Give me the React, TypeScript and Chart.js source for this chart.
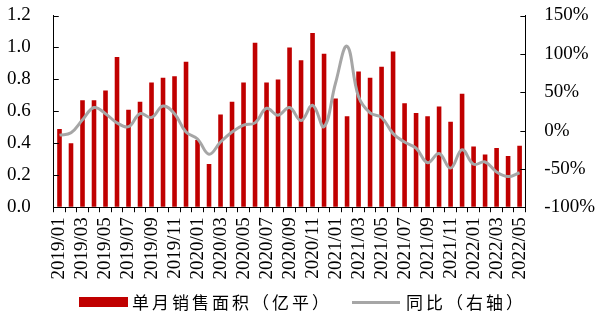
import React, { useEffect, useRef } from "react";
import { Chart, registerables } from "chart.js";

Chart.register(...registerables);

const months = [
  "2019/01", "2019/02", "2019/03", "2019/04", "2019/05", "2019/06", "2019/07", "2019/08", "2019/09", "2019/10", "2019/11", "2019/12",
  "2020/01", "2020/02", "2020/03", "2020/04", "2020/05", "2020/06", "2020/07", "2020/08", "2020/09", "2020/10", "2020/11", "2020/12",
  "2021/01", "2021/02", "2021/03", "2021/04", "2021/05", "2021/06", "2021/07", "2021/08", "2021/09", "2021/10", "2021/11", "2021/12",
  "2022/01", "2022/02", "2022/03", "2022/04", "2022/05",
];

const salesArea = [
  0.49, 0.40, 0.67, 0.67, 0.73, 0.94, 0.61, 0.66, 0.78, 0.81, 0.82, 0.91,
  0.42, 0.27, 0.58, 0.66, 0.78, 1.03, 0.78, 0.80, 1.00, 0.92, 1.09, 0.96,
  0.68, 0.57, 0.85, 0.81, 0.88, 0.975, 0.65, 0.59, 0.57, 0.63, 0.535, 0.71,
  0.38, 0.33, 0.37, 0.32, 0.385,
];

const yoyPct = [
  -6, -3, 14, 30, 22, 10, 5, 22, 17, 32, 22, -2,
  -11, -31, -15, -2, 7, 10, 29, 20, 30, 13, 33, 5,
  62, 110, 44, 23, 17, -4, -15, -23, -42, -30, -49, -25,
  -44, -41, -54, -60, -55,
];

const barLabel = "单月销售面积（亿平）";
const lineLabel = "同比（右轴）";

const BAR_COLOR = "#C00000";
const LINE_COLOR = "#A6A6A6";
const SERIF = "'Liberation Serif', 'Times New Roman', serif";

const insideTicks = {
  id: "insideTicks",
  afterDatasetsDraw(chart: any) {
    const ctx = chart.ctx;
    const yL = chart.scales.y;
    const yR = chart.scales.y1;
    ctx.save();
    ctx.strokeStyle = "#000";
    ctx.lineWidth = 1;
    yL.ticks.forEach((_t: any, i: number) => {
      const py = Math.round(yL.getPixelForTick(i)) + 0.5;
      ctx.beginPath();
      ctx.moveTo(yL.right, py);
      ctx.lineTo(yL.right + 5, py);
      ctx.stroke();
    });
    yR.ticks.forEach((_t: any, i: number) => {
      const py = Math.round(yR.getPixelForTick(i)) + 0.5;
      ctx.beginPath();
      ctx.moveTo(yR.left, py);
      ctx.lineTo(yR.left - 5, py);
      ctx.stroke();
    });
    ctx.restore();
  },
};

export default function App() {
  const ref = useRef<HTMLCanvasElement | null>(null);

  useEffect(() => {
    if (!ref.current) return;
    const chart = new Chart(ref.current, {
      type: "bar",
      data: {
        labels: months,
        datasets: [
          {
            type: "line",
            label: lineLabel,
            data: yoyPct,
            yAxisID: "y1",
            borderColor: LINE_COLOR,
            backgroundColor: LINE_COLOR,
            borderWidth: 3,
            pointRadius: 0,
            tension: 0.4,
            order: 0,
          } as any,
          {
            type: "bar",
            label: barLabel,
            data: salesArea,
            yAxisID: "y",
            backgroundColor: BAR_COLOR,
            barPercentage: 0.4,
            categoryPercentage: 1,
            order: 1,
          },
        ],
      },
      options: {
        responsive: false,
        animation: false,
        devicePixelRatio: 1,
        layout: { padding: { left: 7, right: 5, top: 15.5, bottom: 30.5 } },
        plugins: { legend: { display: false }, tooltip: { enabled: false } },
        scales: {
          x: {
            grid: {
              display: true,
              drawOnChartArea: false,
              drawTicks: true,
              tickLength: 5,
              color: "#000",
              offset: true,
            },
            border: { display: true, color: "#000", width: 1 },
            ticks: {
              autoSkip: false,
              maxRotation: 90,
              minRotation: 90,
              padding: 5,
              color: "#000",
              font: { family: SERIF, size: 19 },
              callback: (_v: any, i: number) => (i % 2 === 0 ? months[i] : ""),
            },
          },
          y: {
            position: "left",
            min: 0,
            max: 1.2,
            grid: {
              display: true,
              drawOnChartArea: false,
              drawTicks: true,
              tickLength: 23,
              color: "rgba(0,0,0,0)",
            },
            border: { display: true, color: "#000", width: 1 },
            ticks: {
              stepSize: 0.2,
              padding: 0,
              color: "#000",
              font: { family: SERIF, size: 19 },
              callback: (v: any) => Number(v).toFixed(1),
            },
          },
          y1: {
            position: "right",
            min: -100,
            max: 150,
            grid: {
              display: true,
              drawOnChartArea: false,
              drawTicks: true,
              tickLength: 19,
              color: "rgba(0,0,0,0)",
            },
            border: { display: true, color: "#000", width: 1 },
            ticks: {
              stepSize: 50,
              padding: 0,
              color: "#000",
              font: { family: SERIF, size: 19 },
              callback: (v: any) => `${v}%`,
            },
          },
        },
      },
      plugins: [insideTicks],
    } as any);
    return () => chart.destroy();
  }, []);

  const legendText: React.CSSProperties = {
    position: "absolute",
    top: 291,
    fontFamily: "'Noto Sans CJK SC', sans-serif",
    fontSize: 17,
    letterSpacing: 3,
    lineHeight: "22px",
    color: "#000",
    whiteSpace: "nowrap",
  };

  return (
    <div style={{ position: "fixed", left: 0, top: 0, width: 600, height: 315, background: "#fff" }}>
      <canvas ref={ref} width={600} height={315} style={{ display: "block" }} />
      <div style={{ position: "absolute", left: 79, top: 297, width: 49, height: 10, background: BAR_COLOR }} />
      <div style={{ ...legendText, left: 132 }}>{barLabel}</div>
      <div style={{ position: "absolute", left: 352, top: 301, width: 48, height: 3, background: LINE_COLOR }} />
      <div style={{ ...legendText, left: 406 }}>{lineLabel}</div>
    </div>
  );
}
